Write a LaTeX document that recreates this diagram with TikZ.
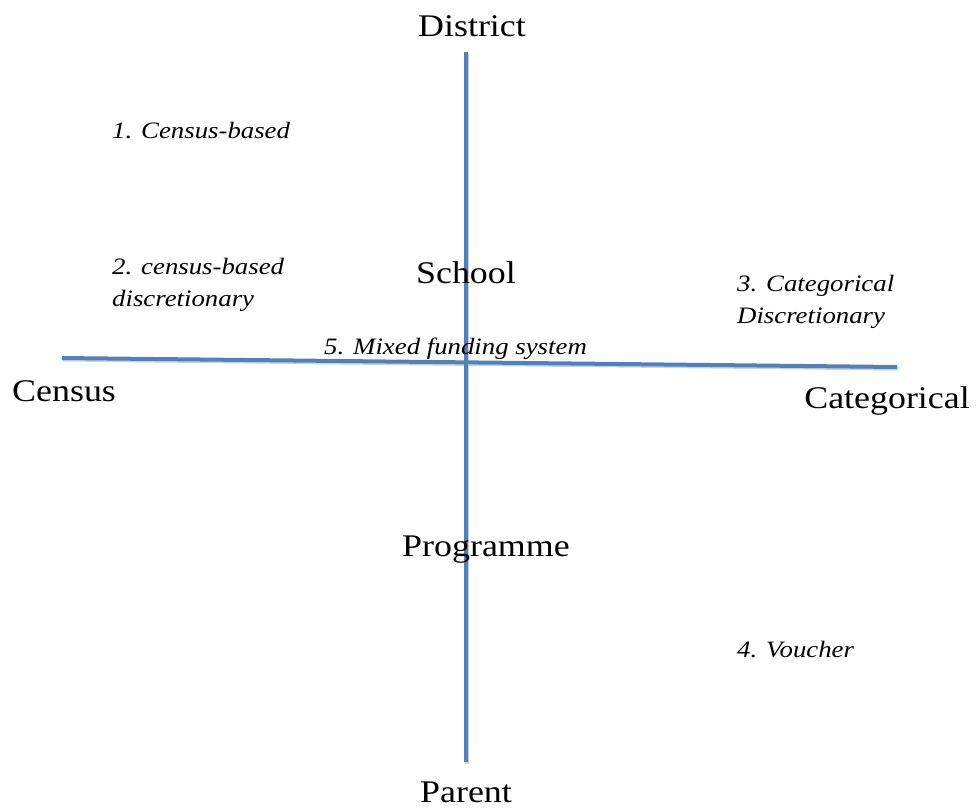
\documentclass[tikz,border=0pt]{standalone}
\usepackage{fontspec}
\setmainfont[FakeStretch=1.14]{Liberation Serif}
\begin{document}
\begin{tikzpicture}[x=1pt,y=-1pt,
  axis/.style={line width=4pt,draw={rgb,255:red,79;green,129;blue,189}},
  axshadow/.style={line width=4pt,draw=black!18},
  big/.style={inner sep=0pt,font=\fontsize{31.5}{36}\selectfont},
  lab/.style={inner sep=0pt,anchor=base west,align=left,font=\fontsize{23.5}{32}\selectfont\itshape}]
\useasboundingbox (0,0) rectangle (977,807);
% axis end points
\coordinate (vt) at (466,52);
\coordinate (vb) at (466,762);
\coordinate (hl) at (62,358);
\coordinate (hr) at (897,367);
% shadows
\draw[axshadow] ([shift={(1,1.5)}]vt) -- ([shift={(1,1.5)}]vb);
\draw[axshadow] ([shift={(1,1.5)}]hl) -- ([shift={(1,1.5)}]hr);
% axes
\draw[axis] (vt) -- (vb);
\draw[axis] (hl) -- (hr);
% axis labels
\node[big,anchor=base] (district) at (472,36) {District};
\node[big,anchor=base] (school) at (466,283) {School};
\node[big,anchor=base west] (census) at (12,401) {Census};
\node[big,anchor=base east] (categorical) at (970,408) {Categorical};
\node[big,anchor=base] (programme) at (486,556) {Programme};
\node[big,anchor=base] (parent) at (466,802) {Parent};
% quadrant labels (base = baseline of last line)
\node[lab] (l1) at (112,138) {1. Census-based};
\node[lab] (l2) at (112,306) {2. census-based\\discretionary};
\node[lab] (l3) at (737,323) {3. Categorical\\Discretionary};
\node[lab] (l4) at (737,657) {4. Voucher};
\node[lab] (l5) at (324,354) {5. Mixed funding system};
\end{tikzpicture}
\end{document}
